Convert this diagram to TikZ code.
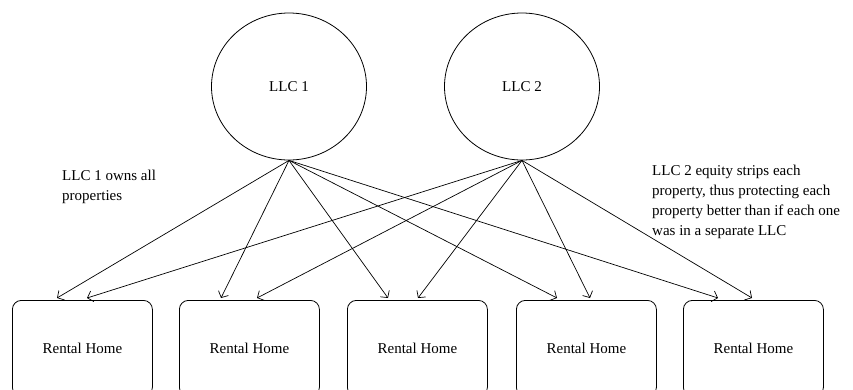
\documentclass[tikz,border=0pt]{standalone}
\usepackage{fontspec}
\setmainfont{Liberation Serif}
\usetikzlibrary{shapes.geometric,arrows.meta}
\begin{document}
\begin{tikzpicture}[x=1pt,y=-1pt,
  every node/.style={font=\fontsize{15}{20}\selectfont},
  llc/.style={ellipse,draw,line width=0.8pt,minimum width=155pt,minimum height=147pt,inner sep=0pt},
  home/.style={draw,rounded corners=9pt,line width=0.8pt,minimum width=140pt,minimum height=96pt,anchor=north west,inner sep=0pt},
  link/.style={line width=0.7pt,-{Straight Barb[length=5pt,width=11pt]}},
  note/.style={align=left,anchor=north west,inner sep=0pt}]
\useasboundingbox (0,0) rectangle (853,389);
\clip (0,0) rectangle (853,389);
\node[llc] (l1) at (289,86.5) {LLC 1};
\node[llc] (l2) at (522,86.5) {LLC 2};
\node[home] (h1) at (12,300) {Rental Home};
\node[home] (h2) at (179,300) {Rental Home};
\node[home] (h3) at (347,300) {Rental Home};
\node[home] (h4) at (516,300) {Rental Home};
\node[home] (h5) at (683,300) {Rental Home};
\node[note] (n1) at (62,169.5) {LLC 1 owns all\\properties};
\node[note] (n2) at (652,164.5) {LLC 2 equity strips each\\property, thus protecting each\\property better than if each one\\was in a separate LLC};
\coordinate (a1) at ([xshift=45pt,yshift=2pt]h1.north west);
\coordinate (b1) at ([xshift=75pt,yshift=2pt]h1.north west);
\coordinate (a2) at ([xshift=42pt,yshift=2pt]h2.north west);
\coordinate (b2) at ([xshift=78pt,yshift=2pt]h2.north west);
\coordinate (a3) at ([xshift=41pt,yshift=2pt]h3.north west);
\coordinate (b3) at ([xshift=71pt,yshift=2pt]h3.north west);
\coordinate (a4) at ([xshift=41pt,yshift=2pt]h4.north west);
\coordinate (b4) at ([xshift=74pt,yshift=2pt]h4.north west);
\coordinate (a5) at ([xshift=35pt,yshift=2pt]h5.north west);
\coordinate (b5) at ([xshift=69pt,yshift=2pt]h5.north west);
\foreach \i in {1,...,5}{
  \draw[link] (l1.south) -- (a\i);
  \draw[link] (l2.south) -- (b\i);
}
\end{tikzpicture}
\end{document}
